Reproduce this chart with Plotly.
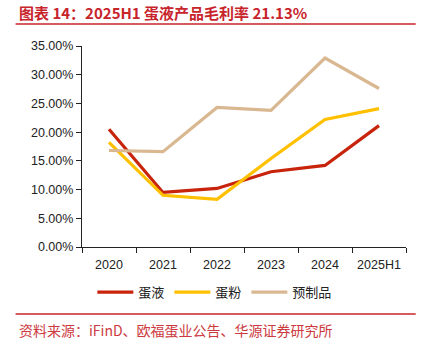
import plotly.graph_objects as go

categories = ["2020", "2021", "2022", "2023", "2024", "2025H1"]
egg_liquid = [20.5, 9.5, 10.2, 13.1, 14.2, 21.13]
egg_powder = [18.2, 9.0, 8.3, 15.4, 22.2, 24.1]
prepared = [16.8, 16.6, 24.3, 23.8, 32.9, 27.6]
series_names = ["蛋液", "蛋粉", "预制品"]
colors = ["#C8240C", "#FFC000", "#D9B891"]
y_ticks = [0, 5, 10, 15, 20, 25, 30, 35]
y_tick_text = [f"{v:.2f}%" for v in y_ticks]

title_text = "图表 14：2025H1 蛋液产品毛利率 21.13%"
source_text = "资料来源：iFinD、欧福蛋业公告、华源证券研究所"

fig = go.Figure()
for name, vals, c in zip(series_names, [egg_liquid, egg_powder, prepared], colors):
    fig.add_trace(go.Scatter(x=categories, y=vals, name=name, mode="lines",
                             line=dict(color=c, width=3.2)))

fig.update_layout(
    width=434, height=352,
    margin=dict(l=82, r=28, t=46, b=105),
    paper_bgcolor="white", plot_bgcolor="white",
    font=dict(family="Liberation Sans, Arial, sans-serif", size=12.5, color="#222"),
    showlegend=True,
    legend=dict(orientation="h", x=0.41, xanchor="center", y=-0.15, yanchor="top",
                font=dict(family="Noto Sans CJK SC", size=13, color="#222"),
                itemwidth=36, tracegroupgap=0),
    xaxis=dict(type="category", range=[-0.5, 5.5], showline=True, linecolor="#222", linewidth=1.2,
               ticks="outside", tickson="boundaries", ticklen=5, tickcolor="#222",
               ticklabelstandoff=6, showgrid=False, zeroline=False),
    yaxis=dict(range=[0, 35], tickvals=y_ticks, ticktext=y_tick_text,
               showline=True, linecolor="#222", linewidth=1.2,
               ticks="outside", ticklen=5, tickcolor="#222",
               showgrid=False, zeroline=False),
    shapes=[
        dict(type="line", xref="paper", yref="paper", x0=-0.205, x1=1.03,
             y0=1.0 + 22/201, y1=1.0 + 22/201, line=dict(color="#C8242C", width=1.5)),
        dict(type="line", xref="paper", yref="paper", x0=-0.205, x1=1.03,
             y0=-67/201, y1=-67/201, line=dict(color="#C8242C", width=1.5)),
    ],
    annotations=[
        dict(text="<b>" + title_text + "</b>", xref="paper", yref="paper",
             x=-0.2, y=1.0 + 34/201, xanchor="left", yanchor="middle", showarrow=False,
             font=dict(family="Noto Sans CJK SC", size=15, color="#C8242C")),
        dict(text=source_text, xref="paper", yref="paper",
             x=-0.2, y=-83/201, xanchor="left", yanchor="middle", showarrow=False,
             font=dict(family="Noto Sans CJK SC", size=14, color="#CC3A40")),
    ],
)

fig.write_html("out.html")
